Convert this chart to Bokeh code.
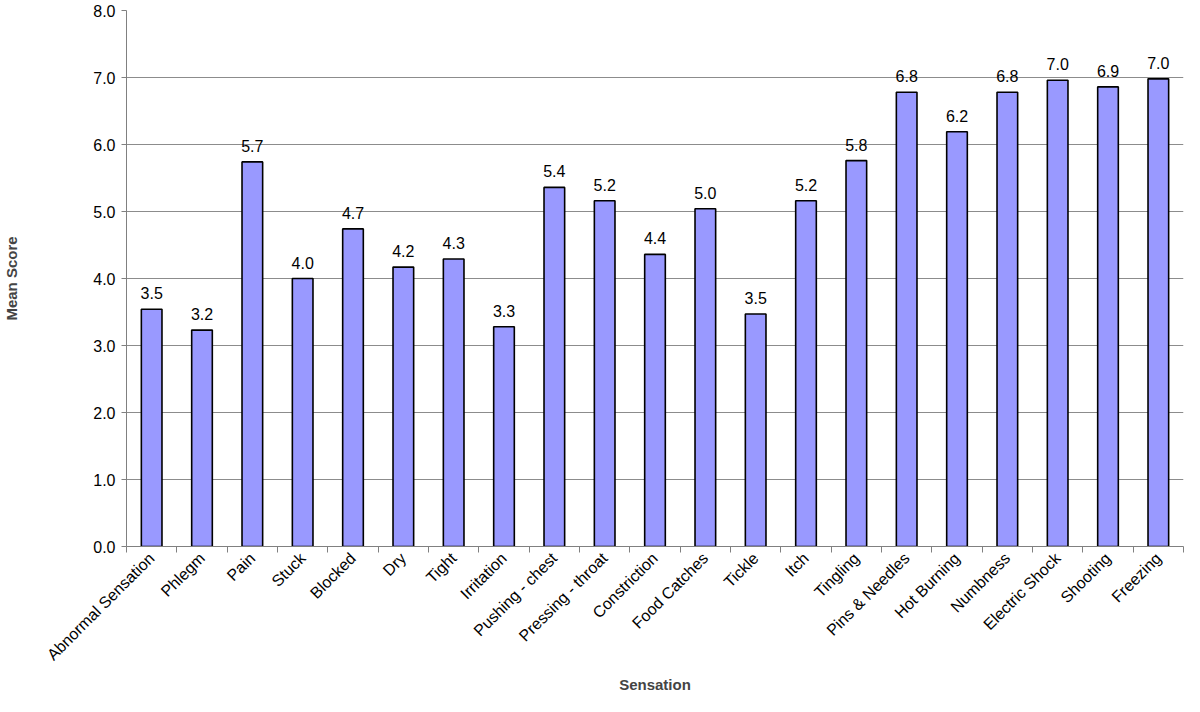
from bokeh.plotting import figure
from bokeh.models import FixedTicker, ColumnDataSource, NumeralTickFormatter
from bokeh.core.properties import value
from bokeh.embed import file_html
from bokeh.resources import INLINE
import math

categories = ["Abnormal Sensation", "Phlegm", "Pain", "Stuck", "Blocked", "Dry", "Tight",
              "Irritation", "Pushing - chest", "Pressing - throat", "Constriction",
              "Food Catches", "Tickle", "Itch", "Tingling", "Pins & Needles", "Hot Burning",
              "Numbness", "Electric Shock", "Shooting", "Freezing"]
mean_scores = [3.54, 3.23, 5.74, 4.00, 4.74, 4.17, 4.29, 3.28, 5.36, 5.16, 4.36,
               5.04, 3.47, 5.16, 5.76, 6.78, 6.19, 6.78, 6.96, 6.86, 6.98]
y_ticks = [0, 1, 2, 3, 4, 5, 6, 7, 8]

FONT = "Liberation Sans"
n = len(categories)
xs = [i + 0.5 for i in range(n)]
src = ColumnDataSource(dict(x=xs, top=mean_scores,
                            label=["%.1f" % v for v in mean_scores]))

p = figure(width=1184, height=696, x_range=(0, n), y_range=(0, 8),
           output_backend="svg", toolbar_location=None,
           min_border_left=126, min_border_right=1, min_border_top=10,
           min_border_bottom=146)
p.outline_line_color = None
p.background_fill_color = "white"

p.vbar(x="x", top="top", width=0.41, source=src, fill_color="#9999FF",
       line_color="#000000", line_width=1.6)
p.text(x="x", y="top", text="label", source=src, text_align="center",
       text_baseline="bottom", y_offset=-10, text_font=value(FONT),
       text_font_size="16px", text_color="#000000")

# x axis
p.xaxis.ticker = FixedTicker(ticks=xs, minor_ticks=list(range(n + 1)))
p.xaxis.major_label_overrides = {x: c for x, c in zip(xs, categories)}
p.xaxis.major_label_orientation = math.pi / 4
p.xaxis.major_tick_line_color = None
p.xaxis.minor_tick_line_color = "#808080"
p.xaxis.minor_tick_out = 6
p.xaxis.minor_tick_in = 0
p.xaxis.axis_line_color = "#808080"
p.xaxis.major_label_text_font = FONT
p.xaxis.major_label_text_font_size = "16px"
p.xaxis.major_label_text_color = "#000000"
p.xaxis.major_label_standoff = 3
p.xaxis.axis_label = "Sensation"
p.xaxis.axis_label_text_font = FONT
p.xaxis.axis_label_text_font_style = "bold"
p.xaxis.axis_label_text_font_size = "15px"
p.xaxis.axis_label_standoff = 4

# y axis
p.yaxis.ticker = FixedTicker(ticks=y_ticks)
p.yaxis.formatter = NumeralTickFormatter(format="0.0")
p.yaxis.minor_tick_line_color = None
p.yaxis.major_tick_out = 5
p.yaxis.major_tick_in = 0
p.yaxis.major_tick_line_color = "#808080"
p.yaxis.axis_line_color = "#808080"
p.yaxis.major_label_text_font = FONT
p.yaxis.major_label_text_font_size = "16px"
p.yaxis.major_label_text_color = "#000000"
p.yaxis.major_label_standoff = 6
p.yaxis.axis_label = "Mean Score"
p.yaxis.axis_label_text_font = FONT
p.yaxis.axis_label_text_font_style = "bold"
p.yaxis.axis_label_text_font_size = "15px"
p.yaxis.axis_label_standoff = 70

p.xgrid.grid_line_color = None
p.ygrid.ticker = FixedTicker(ticks=y_ticks)
p.ygrid.grid_line_color = "#8c8c8c"
p.ygrid.grid_line_width = 1

open("out.html", "w").write(file_html(p, INLINE))
